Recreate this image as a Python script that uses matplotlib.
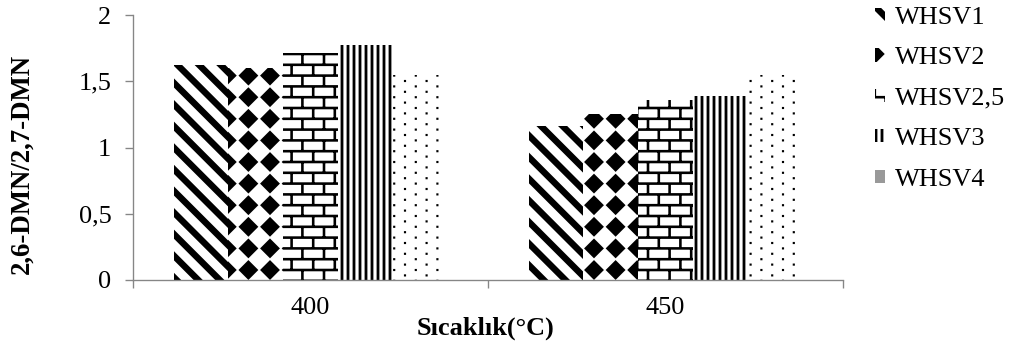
import warnings
import numpy as np
import matplotlib as mpl
mpl.use('Agg')
import matplotlib.pyplot as plt
import matplotlib.hatch as mhatch
from matplotlib.path import Path
from matplotlib.patches import Patch

warnings.filterwarnings('ignore')

# data
temps   = ['400', '450']
series  = ['WHSV1', 'WHSV2', 'WHSV2,5', 'WHSV3', 'WHSV4']
whsv1   = [1.62, 1.16]
whsv2   = [1.60, 1.25]
whsv25  = [1.71, 1.36]
whsv3   = [1.77, 1.39]
whsv4   = [1.55, 1.55]
yticks  = [0, 0.5, 1, 1.5, 2]
ylabels = ['0', '0,5', '1', '1,5', '2']


# custom fill patterns (one hatch tile = 1 inch = dpi pixels)
class PolyHatch(mhatch.HatchPatternBase):
	key = None
	def __init__(self, hatch, density):
		self.polys = self.make() if (hatch and self.key in hatch) else []
		self.num_vertices = sum(len(p) + 1 for p in self.polys)
	def make(self):
		return []
	def set_vertices_and_codes(self, vertices, codes):
		i = 0
		for p in self.polys:
			n = len(p)
			vertices[i:i + n] = p
			vertices[i + n] = p[0]
			codes[i] = Path.MOVETO
			codes[i + 1:i + n] = Path.LINETO
			codes[i + n] = Path.CLOSEPOLY
			i += n + 1

def rect(x0, y0, x1, y1):
	return [(x0, y0), (x1, y0), (x1, y1), (x0, y1)]

class Stripes(PolyHatch):
	key = 'a'
	def make(self):
		w = 0.085
		out = []
		for c in np.arange(-0.2, 2.4, 0.2):
			out.append([(c + 0.1, -0.1), (c + w + 0.1, -0.1),
			            (c + w - 1.1, 1.1), (c - 1.1, 1.1)])
		return out

class Diamonds(PolyHatch):
	key = 'd'
	def make(self):
		r = 0.092
		out = []
		for i in range(5):
			for j in range(5):
				cx, cy = (i + 0.5) / 5, (j + 0.5) / 5
				out.append([(cx - r, cy), (cx, cy - r), (cx + r, cy), (cx, cy + r)])
		return out

class Brick(PolyHatch):
	key = 'b'
	def make(self):
		t = 0.024
		out = []
		for k in range(11):
			y = k * 0.1
			out.append(rect(-0.1, y - t / 2, 1.1, y + t / 2))
		for k in range(10):
			for m in range(6):
				x = m * 0.2 + (k % 2) * 0.1
				out.append(rect(x - t / 2, k * 0.1, x + t / 2, (k + 1) * 0.1))
		return out

class VLines(PolyHatch):
	key = 'v'
	def make(self):
		t = 0.026
		return [rect(k / 18 - t / 2, -0.1, k / 18 + t / 2, 1.1) for k in range(19)]

class Dots(PolyHatch):
	key = 'p'
	def make(self):
		s = 0.010
		out = []
		for i in range(10):
			for j in range(11):
				x = i * 0.1 + 0.05
				y = j * 0.1 + (i % 2) * 0.05
				out.append(rect(x - s, y - s, x + s, y + s))
		return out

mhatch._hatch_types.extend([Stripes, Diamonds, Brick, VLines, Dots])

plt.rcParams['font.family'] = ['Liberation Serif', 'DejaVu Serif']
plt.rcParams['hatch.color'] = 'black'
plt.rcParams['hatch.linewidth'] = 0.0

fs = 17.5
gray = '#868686'

def plot_bars():
	fig = plt.figure(figsize=(1011 / 108, 345 / 108), dpi=108)
	ax = fig.add_axes([133 / 1011, 1 - 280 / 345, 710 / 1011, 265 / 345])

	values  = [whsv1, whsv2, whsv25, whsv3, whsv4]
	hatches = ['a', 'd', 'b', 'v', 'p']
	x = np.arange(len(temps))
	width = 0.154
	bars = []
	for i, (vals, h) in enumerate(zip(values, hatches)):
		b = ax.bar(x + (i - 2) * width, vals, width, facecolor='white',
		           hatch=h, linewidth=0, label=series[i])
		bars.append(b)

	ax.set_xlim(-0.5, 1.5)
	ax.set_ylim(0, 2)
	ax.set_yticks(yticks)
	ax.set_yticklabels(ylabels)
	ax.set_xticks([-0.5, 0.5, 1.5])
	ax.set_xticklabels(['', '', ''])
	ax.set_xticks(x, minor=True)
	ax.set_xticklabels(temps, minor=True)

	for s in ['top', 'right']:
		ax.spines[s].set_visible(False)
	for s in ['left', 'bottom']:
		ax.spines[s].set_color(gray)
		ax.spines[s].set_linewidth(0.9)
	ax.tick_params(axis='y', length=5.5, width=0.9, color=gray, pad=9, labelsize=fs)
	ax.tick_params(axis='x', which='major', length=5.5, width=0.9, color=gray)
	ax.tick_params(axis='x', which='minor', length=0, pad=11, labelsize=fs)

	fig.text(22 / 1011, 1 - 164 / 345, '2,6-DMN/2,7-DMN', rotation=90,
	         ha='center', va='center', fontsize=17.8, fontweight='bold')
	fig.text(485 / 1011, 1 - 328 / 345, 'Sıcaklık(°C)', ha='center',
	         va='center', fontsize=fs, fontweight='bold')

	handles = [b.patches[0] for b in bars[:4]] + [Patch(facecolor='#999999')]
	fig.legend(handles, series, loc='upper left', bbox_to_anchor=(875 / 1011, 1 - 7 / 345),
	           frameon=False, fontsize=fs, handlelength=0.39, handleheight=0.39,
	           handletextpad=0.38, labelspacing=0.7, borderpad=0, borderaxespad=0)
	return fig

figure = plot_bars()
figure.savefig('out.png', dpi=108)
